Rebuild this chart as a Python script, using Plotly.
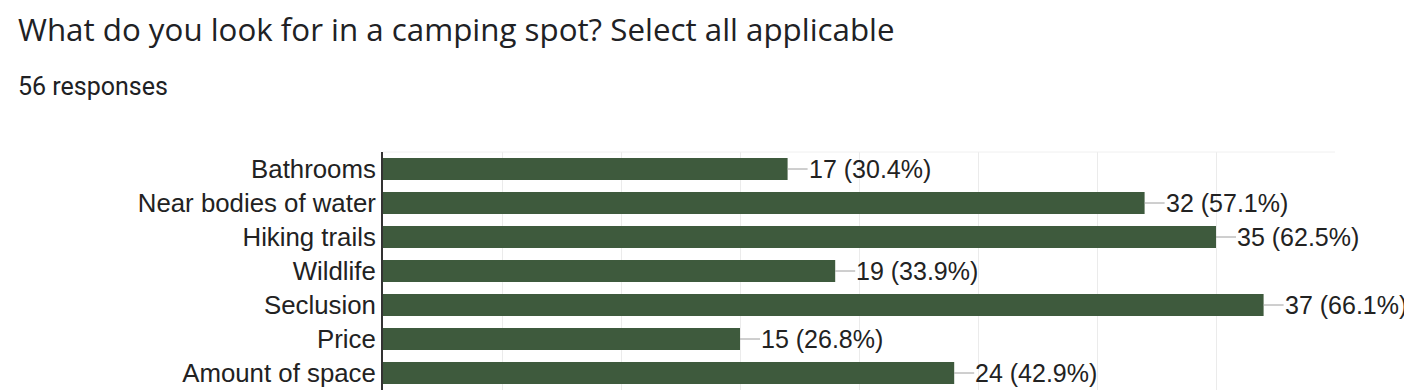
import plotly.graph_objects as go

categories = ["Bathrooms", "Near bodies of water", "Hiking trails", "Wildlife",
              "Seclusion", "Price", "Amount of space"]
counts = [17, 32, 35, 19, 37, 15, 24]
percents = ["30.4%", "57.1%", "62.5%", "33.9%", "66.1%", "26.8%", "42.9%"]
total_responses = 56
title_text = "What do you look for in a camping spot? Select all applicable"

BAR_COLOR = "#3e5a3d"
LABEL_FONT = "Liberation Sans, Arial, sans-serif"

# page body has an 8px default margin; size the figure to fit the window
OFF = 8
W, H = 1412 - OFF, 391 - OFF
ML, MR, MT, MB = 383 - OFF, 77, 152 - OFF, 1
plot_w = W - ML - MR
plot_h = H - MT - MB


def px_to_paper_x(px_page):
    return (px_page - OFF - ML) / plot_w


def px_to_paper_y(py_page):
    return (H - MB - (py_page - OFF)) / plot_h


fig = go.Figure()
fig.add_trace(go.Bar(
    y=categories, x=counts, orientation="h",
    marker=dict(color=BAR_COLOR, line=dict(width=0)),
    hoverinfo="skip", showlegend=False,
))

for c, v, p in zip(categories, counts, percents):
    fig.add_annotation(
        x=v, y=c, xref="x", yref="y",
        text=f"{v} ({p})",
        showarrow=True, arrowhead=0, arrowwidth=1, arrowcolor="#9e9e9e",
        ax=20, ay=0, standoff=0, startstandoff=0,
        xanchor="left", yanchor="middle",
        font=dict(family=LABEL_FONT, size=25, color="#222222"),
        borderpad=0,
    )

fig.add_annotation(
    x=px_to_paper_x(16), y=px_to_paper_y(29), xref="paper", yref="paper",
    text=title_text, showarrow=False, xanchor="left", yanchor="middle",
    font=dict(family="Open Sans, sans-serif", size=31.3, color="#202124"),
)
fig.add_annotation(
    x=px_to_paper_x(16), y=px_to_paper_y(86.5), xref="paper", yref="paper",
    text=f"{total_responses} responses", showarrow=False, xanchor="left",
    yanchor="middle",
    font=dict(family="Roboto, sans-serif", size=25, color="#202124"),
)

fig.add_shape(type="line", xref="paper", yref="paper", x0=0, x1=1, y0=1, y1=1,
              line=dict(color="#f0f0f0", width=1))

fig.update_layout(
    width=W, height=H,
    margin=dict(l=ML, r=MR, t=MT, b=MB, pad=0),
    paper_bgcolor="white", plot_bgcolor="white",
    bargap=0.35,
    xaxis=dict(range=[0, 40], dtick=5, showgrid=True, gridcolor="#ebebeb",
               gridwidth=1, zeroline=False, showticklabels=False,
               showline=False, fixedrange=True),
    yaxis=dict(autorange="reversed", showline=True, linecolor="#333333",
               linewidth=2, ticks="", ticklabelstandoff=0,
               tickfont=dict(family=LABEL_FONT, size=25.8, color="#222222"),
               fixedrange=True),
)

fig.write_html("out.html")
